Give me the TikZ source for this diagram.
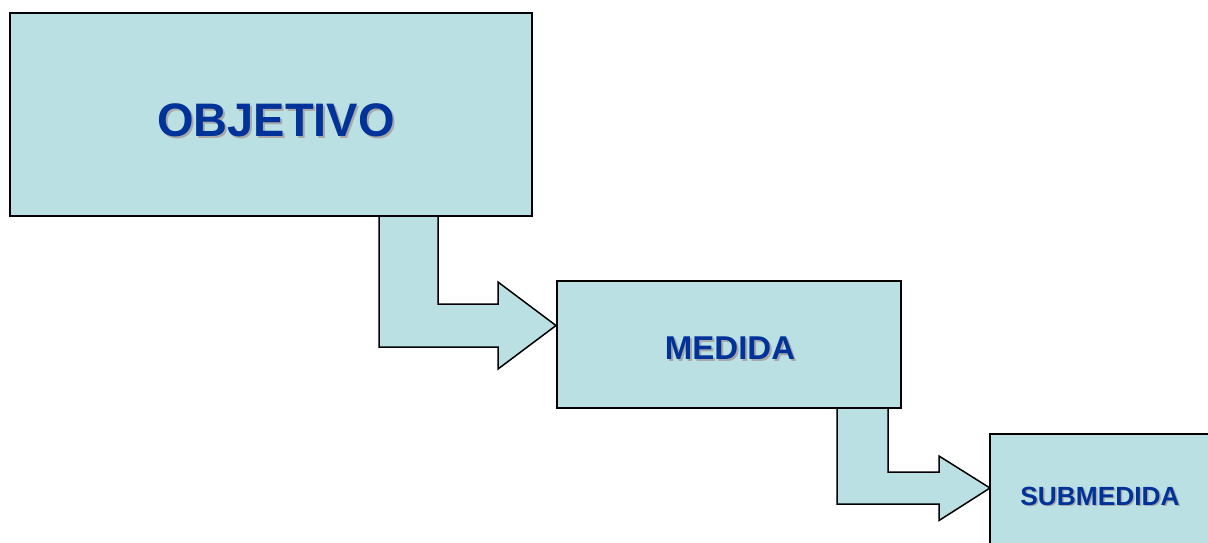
\documentclass[tikz,border=0pt]{standalone}
\usepackage{fontspec}
\setmainfont{Liberation Sans}
\usetikzlibrary{calc}
\definecolor{boxfill}{HTML}{BBE0E3}
\definecolor{txtblue}{HTML}{003399}
\definecolor{shadowgray}{HTML}{A8A8A8}
\tikzset{
  box/.style={draw=black, line width=1.6pt, fill=boxfill, rectangle, inner sep=0pt},
  bentarrow/.style={draw=black, line width=1.5pt, fill=boxfill, line join=miter},
  lbl/.style={text=txtblue, font=\bfseries, inner sep=0pt, anchor=center},
  lblshadow/.style={text=shadowgray, font=\bfseries, inner sep=0pt, anchor=center}
}
\begin{document}
\begin{tikzpicture}[x=1pt, y=-1pt]
\useasboundingbox (0,0) rectangle (1208,542);
\fill[white] (0,0) rectangle (1208,542);
% bent arrows (drawn first, boxes on top)
\draw[bentarrow] (379,214) -- (379,347) -- (498,347) -- (498,369) -- (556,325.5) -- (498,282) -- (498,304) -- (438,304) -- (438,214);
\draw[bentarrow] (837,406) -- (837,504) -- (939,504) -- (939,520.5) -- (990,488) -- (939,456) -- (939,472) -- (888,472) -- (888,406);
% boxes
\node[box, minimum width=522pt, minimum height=203pt] (obj) at (271,114.5) {};
\node[box, minimum width=344pt, minimum height=127pt] (med) at (729,344.5) {};
\node[box, minimum width=250pt, minimum height=140pt] (sub) at (1115,504) {};
% labels with soft shadow
\node[lblshadow, font=\bfseries\fontsize{47}{47}\selectfont] (objs) at (278,122) {OBJETIVO};
\node[lbl, font=\bfseries\fontsize{47}{47}\selectfont] (objt) at (276,120) {OBJETIVO};
\node[lblshadow, font=\bfseries\fontsize{33}{33}\selectfont] (meds) at (732,350) {MEDIDA};
\node[lbl, font=\bfseries\fontsize{33}{33}\selectfont] (medt) at (730,348) {MEDIDA};
\node[lblshadow, font=\bfseries\fontsize{26.3}{26.3}\selectfont] (subs) at (1101.5,497.5) {SUBMEDIDA};
\node[lbl, font=\bfseries\fontsize{26.3}{26.3}\selectfont] (subt) at (1100,496) {SUBMEDIDA};
\end{tikzpicture}
\end{document}
